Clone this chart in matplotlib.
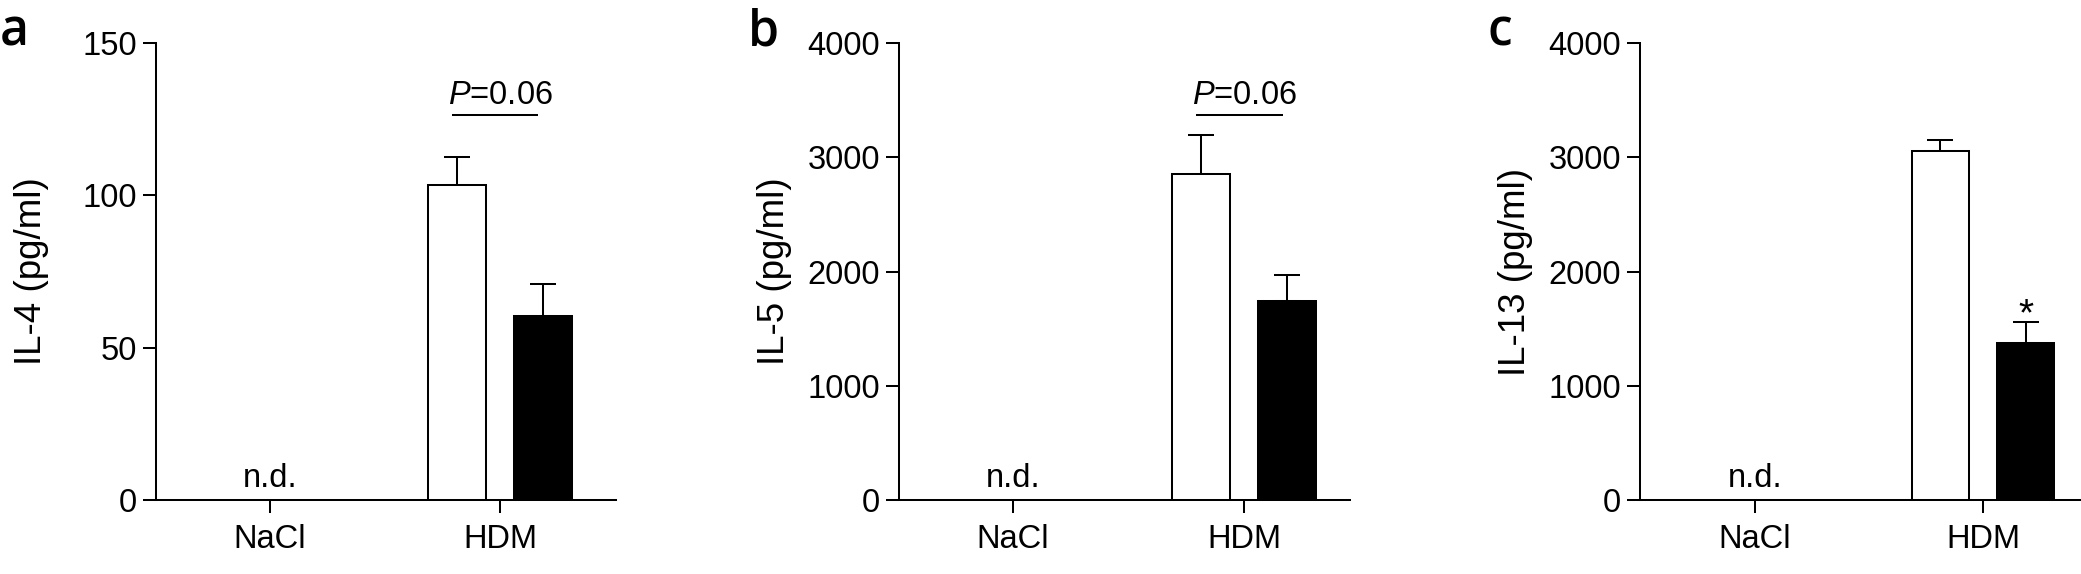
import numpy as np
import matplotlib
matplotlib.use('Agg')
import matplotlib.pyplot as plt

# Data (HDM group only, NaCl was not detected)
groups = ['NaCl', 'HDM']
panel_letters = ['a', 'b', 'c']
ylabels = ['IL-4 (pg/ml)', 'IL-5 (pg/ml)', 'IL-13 (pg/ml)']
yticks_list = [[0, 50, 100, 150],
               [0, 1000, 2000, 3000, 4000],
               [0, 1000, 2000, 3000, 4000]]
white_mean = [103.4, 2852, 3054]
white_sem = [9.2, 346, 96]
black_mean = [60.4, 1742, 1372]
black_sem = [10.5, 224, 190]
p_text = ['0.06', '0.06', None]
p_line_y = [126.4, 3371, None]
star_text = [None, None, '*']
nd_text = 'n.d.'

# Matplotlib parameters
plt.rcParams['font.family'] = ['Liberation Sans', 'DejaVu Sans']
plt.rcParams['mathtext.fontset'] = 'custom'
plt.rcParams['mathtext.rm'] = 'Liberation Sans'
plt.rcParams['mathtext.it'] = 'Liberation Sans:italic'

W, H = 2081, 574
fig = plt.figure(figsize=(W / 100, H / 100), dpi=100)

lw = 1.45
fs = 23.5

# axis extents in pixels: left, right, NaCl tick, HDM tick
ax_px = [(156, 616, 270, 500), (899, 1350, 1013, 1244), (1640, 2081, 1755, 1983)]
letter_x = [0, 748, 1488]
y0_px, ytop_px = 500, 43

bar_w = 0.25
off = 0.187

for i in range(3):
    left, right, nacl, hdm = ax_px[i]
    unit = hdm - nacl
    ax = fig.add_axes([left / W, (H - y0_px) / H, (right - left) / W, (y0_px - ytop_px) / H])
    ax.set_xlim((left - nacl) / unit, (right - nacl) / unit)
    ax.set_ylim(0, yticks_list[i][-1])

    xw, xb = 1 - off, 1 + off
    ax.bar(xw, white_mean[i], width=bar_w, color='white', edgecolor='black', linewidth=lw, zorder=3)
    ax.bar(xb, black_mean[i], width=bar_w, color='black', edgecolor='black', linewidth=lw, zorder=3)
    ax.errorbar([xw, xb], [white_mean[i], black_mean[i]],
                yerr=[[0, 0], [white_sem[i], black_sem[i]]],
                fmt='none', ecolor='black', elinewidth=lw, capsize=9.7, capthick=lw, zorder=2)

    ax.annotate(nd_text, (0, 0), xytext=(0, 9.5), textcoords='offset points',
                ha='center', va='baseline', fontsize=fs)

    if p_text[i] is not None:
        ax.plot([xw - 0.02, xb - 0.02], [p_line_y[i]] * 2, color='black', lw=lw, solid_capstyle='butt')
        ax.annotate(r'$\it{P}$=' + p_text[i], ((xw + xb) / 2, p_line_y[i]), xytext=(0, 8),
                    textcoords='offset points', ha='center', va='baseline', fontsize=fs)
    if star_text[i] is not None:
        ax.annotate(star_text[i], (xb, black_mean[i] + black_sem[i]), xytext=(0, -2.5),
                    textcoords='offset points', ha='center', va='baseline', fontsize=28)

    ax.set_xticks([0, 1])
    ax.set_xticklabels(groups)
    ax.set_yticks(yticks_list[i])
    ax.tick_params(axis='both', length=9.4, width=lw, labelsize=fs, color='black')
    ax.tick_params(axis='y', pad=4.3)
    ax.tick_params(axis='x', pad=8)
    for s in ['top', 'right']:
        ax.spines[s].set_visible(False)
    for s in ['left', 'bottom']:
        ax.spines[s].set_linewidth(lw)

    ax.set_ylabel(ylabels[i], fontsize=26.5)
    ax.yaxis.set_label_coords(-107 / (right - left), 0.5)

    fig.text(letter_x[i] / W, 1 - 45 / H, panel_letters[i], fontfamily='Open Sans',
             fontweight='semibold', fontsize=36, ha='left', va='baseline')

fig.savefig('out.png', dpi=100, facecolor='white')
